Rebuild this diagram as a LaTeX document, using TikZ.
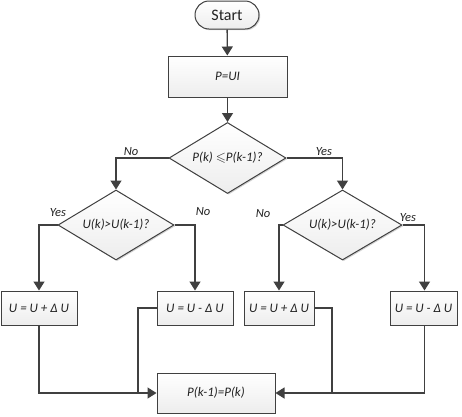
\documentclass[tikz,border=0pt]{standalone}
\usepackage{amssymb}
\usepackage{fontspec}
\setmainfont{Carlito}
\usetikzlibrary{shapes.geometric,arrows.meta,shadows}
\definecolor{linegray}{HTML}{404040}
\definecolor{textgray}{HTML}{222222}
\begin{document}
\begin{tikzpicture}[x=1pt,y=-1pt,
  base/.style={draw=linegray, line width=1pt, inner sep=0pt, text=textgray,
    top color=white, bottom color=gray!14,
    drop shadow={shadow xshift=1.2pt, shadow yshift=-1.2pt, fill=gray, opacity=.35}},
  procbox/.style={base, rectangle, font=\fontsize{13}{15}\selectfont\itshape},
  decision/.style={base, diamond, aspect=1.65, font=\fontsize{13}{15}\selectfont\itshape},
  terminal/.style={base, rectangle, rounded corners=14pt, font=\fontsize{16}{18}\selectfont},
  arr/.style={draw=linegray, line width=1.3pt, -{Triangle[width=11pt,length=9pt]}},
  link/.style={draw=linegray, line width=1.3pt},
  lbl/.style={text=textgray, font=\fontsize{12.5}{14}\selectfont\itshape, inner sep=0pt}]
  \useasboundingbox[fill=white] (0,0) rectangle (462,416);

  % main column
  \node[terminal, minimum width=64pt, minimum height=28pt] (start) at (227,15) {Start};
  \node[procbox, minimum width=119pt, minimum height=41pt] (pui) at (227.5,76.5) {P=UI};
  \node[decision, minimum width=117pt, minimum height=71pt] (d1) at (227.5,158) {P(k) $\leqslant$P(k-1)?};

  % second-level decisions
  \node[decision, minimum width=116pt, minimum height=70pt] (d2) at (116,225) {U(k)>U(k-1)?};
  \node[decision, minimum width=119pt, minimum height=70pt] (d3) at (342.5,225) {U(k)>U(k-1)?};

  % voltage updates
  \node[procbox, minimum width=76pt, minimum height=34pt] (ua) at (39,308) {U = U + Δ U};
  \node[procbox, minimum width=76pt, minimum height=34pt] (ub) at (195,308) {U = U - Δ U};
  \node[procbox, minimum width=70pt, minimum height=34pt] (uc) at (279,308) {U = U + Δ U};
  \node[procbox, minimum width=67pt, minimum height=34pt] (ud) at (423.5,308) {U = U - Δ U};

  % power update
  \node[procbox, minimum width=118pt, minimum height=40pt] (pk) at (216,393) {P(k-1)=P(k)};

  \coordinate (jl) at (138,393);
  \coordinate (jr) at (332,393);

  % connectors
  \draw[arr] (start) -- (pui);
  \draw[arr] (pui) -- (d1);
  \draw[arr] (d1.west) -| (d2.north);
  \draw[arr] (d1.east) -| (d3.north);
  \draw[arr] (d2.west) -| (ua.north);
  \draw[arr] (d2.east) -| (ub.north);
  \draw[arr] (d3.west) -| (uc.north);
  \draw[arr] (d3.east) -| ([xshift=1pt]ud.north);
  \draw[link] (ub.west) -| (jl);
  \draw[link] (uc.east) -| (jr);
  \draw[arr] (ua.south) |- (pk.west);
  \draw[arr] ([xshift=1pt]ud.south) |- (pk.east);

  % branch labels
  \node[lbl] (l1) at (131,152) {No};
  \node[lbl] (l2) at (324,152) {Yes};
  \node[lbl] (l3) at (58,213) {Yes};
  \node[lbl] (l4) at (203,212) {No};
  \node[lbl] (l5) at (263,214) {No};
  \node[lbl] (l6) at (408,218) {Yes};
\end{tikzpicture}
\end{document}
